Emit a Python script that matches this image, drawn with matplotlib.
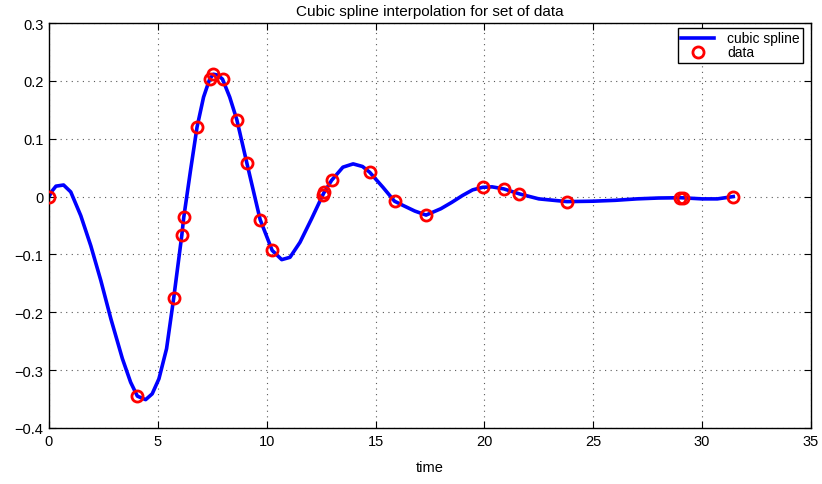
import numpy as np
import matplotlib
matplotlib.use("Agg")
import matplotlib.pyplot as plt

plt.rcParams['font.family'] = ['Liberation Sans', 'DejaVu Sans']

# ---- data --------------------------------------------------------------

# sample points (red circles)
data_t = [0.0, 4.06, 5.73, 6.10, 6.19, 6.80, 7.38, 7.55, 7.97, 8.63, 9.09,
          9.70, 10.25, 12.58, 12.65, 12.98, 14.73, 15.87, 17.32, 19.92,
          20.89, 21.61, 23.79, 28.98, 29.10, 31.43]
data_y = [0.0, -0.345, -0.175, -0.067, -0.036, 0.120, 0.203, 0.211, 0.203,
          0.1325, 0.0577, -0.040, -0.093, 0.003, 0.008, 0.028, 0.042,
          -0.008, -0.032, 0.016, 0.0133, 0.0046, -0.0087, -0.003, -0.003, 0.0]

# spline curve as drawn (blue line)
curve_t = [0.0, 0.15, 0.32, 0.67, 1.0, 1.46, 1.92, 2.38, 2.84, 3.37, 3.75,
           4.06, 4.44, 4.74, 5.05, 5.40, 5.73, 6.10, 6.19, 6.50, 6.80, 7.10,
           7.38, 7.55, 7.75, 7.97, 8.30, 8.63, 9.09, 9.70, 10.25, 10.69,
           11.07, 11.53, 12.06, 12.58, 12.65, 12.98, 13.50, 13.97, 14.40,
           14.73, 15.34, 15.87, 16.30, 16.80, 17.32, 18.0, 18.5, 19.0, 19.46,
           19.92, 20.35, 20.89, 21.61, 22.50, 23.79, 25.0, 26.0, 27.0, 28.0,
           29.04, 30.0, 30.7, 31.43]
curve_y = [0.0, 0.010, 0.018, 0.020, 0.008, -0.033, -0.085, -0.145, -0.211,
           -0.280, -0.321, -0.345, -0.351, -0.341, -0.315, -0.263, -0.175,
           -0.067, -0.036, 0.045, 0.120, 0.172, 0.203, 0.2115, 0.210, 0.203,
           0.172, 0.1325, 0.0577, -0.040, -0.093, -0.109, -0.105, -0.079,
           -0.0385, 0.003, 0.008, 0.028, 0.0508, 0.0565, 0.052, 0.042, 0.016,
           -0.008, -0.016, -0.025, -0.032, -0.021, -0.010, 0.002, 0.0116,
           0.016, 0.0168, 0.0133, 0.0046, -0.004, -0.0087, -0.008, -0.0065,
           -0.004, -0.0025, -0.002, -0.004, -0.004, 0.0]

x_ticks = [0, 5, 10, 15, 20, 25, 30, 35]
y_ticks = [-0.4, -0.3, -0.2, -0.1, 0, 0.1, 0.2, 0.3]
y_labels = ['\u22120.4', '\u22120.3', '\u22120.2', '\u22120.1', '0', '0.1', '0.2', '0.3']

# ---- plot --------------------------------------------------------------

fig = plt.figure(figsize=(8.22, 4.85), dpi=100)
ax = fig.add_axes([0.0596, 0.1155, 0.927, 0.835])

ax.plot(curve_t, curve_y, color='blue', lw=2.6, label='cubic spline',
        solid_joinstyle='round', zorder=2)
ax.plot(data_t, data_y, ls='none', marker='o', ms=8, mfc='none',
        mec='red', mew=2.0, label='data', zorder=3)

ax.set_xlim(0, 35)
ax.set_ylim(-0.4, 0.3)
ax.set_xticks(x_ticks)
ax.set_xticklabels([str(t) for t in x_ticks])
ax.set_yticks(y_ticks)
ax.set_yticklabels(y_labels)
ax.tick_params(direction='in', top=True, right=True, length=5, width=0.8,
               labelsize=10.5, pad=4)
ax.grid(True, ls=(0, (1, 4)), color='0.35', lw=0.8)
for s in ax.spines.values():
    s.set_linewidth(1.0)

ax.set_title('Cubic spline interpolation for set of data', fontsize=11, pad=6)
ax.set_xlabel('time', fontsize=10.5, labelpad=9)

# legend box sits 8 px left of the right spine, 5 px below the top
leg = ax.legend(loc='upper right', bbox_to_anchor=(1 - 8 / 762, 1 - 5 / 405),
                borderaxespad=0, fontsize=10, fancybox=False,
                framealpha=1, edgecolor='black',
                handlelength=2.4, borderpad=0.25, labelspacing=0.0,
                handletextpad=0.9)
leg.get_frame().set_linewidth(1.0)

fig.savefig('out.png', dpi=100)
